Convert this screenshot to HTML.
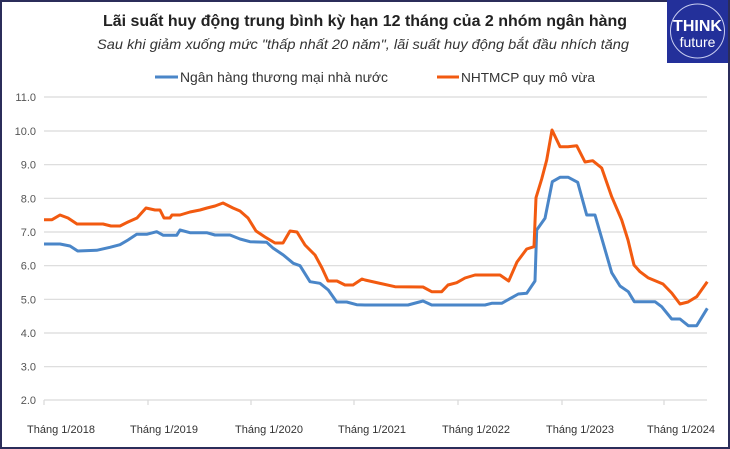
<!DOCTYPE html>
<html><head><meta charset="utf-8"><style>
html,body{margin:0;padding:0;background:#fff}
#c{position:relative;width:730px;height:449px;overflow:hidden;font-family:"Liberation Sans","DejaVu Sans",sans-serif}
</style></head><body><div id="c">
<svg width="730" height="449" viewBox="0 0 730 449" xmlns="http://www.w3.org/2000/svg">
<rect x="1" y="1" width="728" height="447" fill="#fff" stroke="#2b2d5a" stroke-width="2"/>
<rect x="667" y="0" width="61" height="63" fill="#23309a"/>
<circle cx="697.5" cy="31" r="27" fill="none" stroke="#c8cdf0" stroke-width="1"/>
<text x="697.5" y="31" text-anchor="middle" font-size="16" font-weight="bold" fill="#fff">THINK</text>
<text x="697.5" y="47" text-anchor="middle" font-size="14" fill="#fff">future</text>
<text x="365" y="26" text-anchor="middle" font-size="16" font-weight="bold" fill="#222" textLength="524" lengthAdjust="spacingAndGlyphs">Lãi suất huy động trung bình kỳ hạn 12 tháng của 2 nhóm ngân hàng</text>
<text x="363" y="49" text-anchor="middle" font-size="14" font-style="italic" fill="#333" textLength="532" lengthAdjust="spacingAndGlyphs">Sau khi giảm xuống mức "thấp nhất 20 năm", lãi suất huy động bắt đầu nhích tăng</text>
<line x1="155" y1="77" x2="178" y2="77" stroke="#4a86c8" stroke-width="3"/>
<text x="180" y="82" font-size="14" fill="#333" textLength="208" lengthAdjust="spacingAndGlyphs">Ngân hàng thương mại nhà nước</text>
<line x1="437" y1="77" x2="459" y2="77" stroke="#f25a10" stroke-width="3"/>
<text x="461" y="82" font-size="13" fill="#333" textLength="134" lengthAdjust="spacingAndGlyphs">NHTMCP quy mô vừa</text>
<g stroke="#d9d9d9" stroke-width="1.2">
<line x1="44" y1="97" x2="707" y2="97"/><line x1="44" y1="131" x2="707" y2="131"/>
<line x1="44" y1="164.7" x2="707" y2="164.7"/><line x1="44" y1="198.3" x2="707" y2="198.3"/>
<line x1="44" y1="232" x2="707" y2="232"/><line x1="44" y1="265.7" x2="707" y2="265.7"/>
<line x1="44" y1="299.3" x2="707" y2="299.3"/><line x1="44" y1="333" x2="707" y2="333"/>
<line x1="44" y1="366.7" x2="707" y2="366.7"/><line x1="44" y1="400" x2="707" y2="400"/>
<line x1="44" y1="400" x2="44" y2="405"/><line x1="148" y1="400" x2="148" y2="405"/>
<line x1="251" y1="400" x2="251" y2="405"/><line x1="354" y1="400" x2="354" y2="405"/>
<line x1="458" y1="400" x2="458" y2="405"/><line x1="562" y1="400" x2="562" y2="405"/>
<line x1="664" y1="400" x2="664" y2="405"/>
</g>
<g font-size="11" fill="#555" text-anchor="end">
<text x="36" y="101">11.0</text><text x="36" y="135">10.0</text><text x="36" y="168.7">9.0</text>
<text x="36" y="202.3">8.0</text><text x="36" y="236">7.0</text><text x="36" y="269.7">6.0</text>
<text x="36" y="303.3">5.0</text><text x="36" y="337">4.0</text><text x="36" y="370.7">3.0</text><text x="36" y="404">2.0</text>
</g>
<g font-size="11" fill="#333" text-anchor="middle">
<text x="61" y="433">Tháng 1/2018</text><text x="164" y="433">Tháng 1/2019</text>
<text x="269" y="433">Tháng 1/2020</text><text x="372" y="433">Tháng 1/2021</text>
<text x="476" y="433">Tháng 1/2022</text><text x="580" y="433">Tháng 1/2023</text>
<text x="681" y="433">Tháng 1/2024</text>
</g>
<polyline fill="none" stroke="#4a86c8" stroke-width="3" stroke-linejoin="round" points="44,244 60,244 70,246 77.7,251 96.7,250.3 110,247.3 120,244.7 128,240 136.7,234.3 146.7,234.3 156.7,231.7 163.3,235.3 176.7,235.3 180,230 190,232.7 206.7,232.7 215,235 230,235 240,239 250,241.7 266.7,242.3 273.3,248.3 283.3,255 293.3,263.3 300,265.7 310,281.7 320,283.3 328.3,290 336.7,302 346.7,302 356.7,304.7 365,305 408,305 423,301 431.7,305 485,305 491.7,303.3 501.7,303.3 518.3,294 526.7,293.3 535,281 536.7,230 545,218.3 552.3,181.7 560,177.3 568.3,177.3 577.7,182.3 586.7,215 595,215 611.7,272.7 620,286 628.3,291.7 634.3,301.7 655,301.7 661.7,306.7 671.7,319 680,319 688.3,325.7 696.7,325.7 707.3,308.3"/>
<polyline fill="none" stroke="#f25a10" stroke-width="3" stroke-linejoin="round" points="44,219.7 52,219.7 60,215 68,218 77,224 103,224 111,226 120,226 128,222 137,218 146,208 155,210 160,210 164,218 170,218 172,215 180,215 190,212 200,210 207,208 215,206 223,203 233,208 240,211 248,218 256,231 265,237 275,243 283,243 290,231 297,232 305,245 315,255 322,268 328,281 337,281 345,285 353,285 362,279 365,280 395,286.7 423,287 431.7,291.7 441.7,291.7 448,285 456.7,282.7 465,278 475,275 500,275 508.7,281 517,262 526.7,249 534,246.7 536,197.7 541.7,179 546.7,160 552,130 560,146.7 568,146.7 576.7,145.7 585,162 592.7,160.7 601.7,168 611.7,196.7 621.7,220 628,240 634,265 640,271.7 648,277.7 663,284 671.7,293 680,304 688,302 696.7,296.7 707.3,281.7"/>
</svg>
</div></body></html>
